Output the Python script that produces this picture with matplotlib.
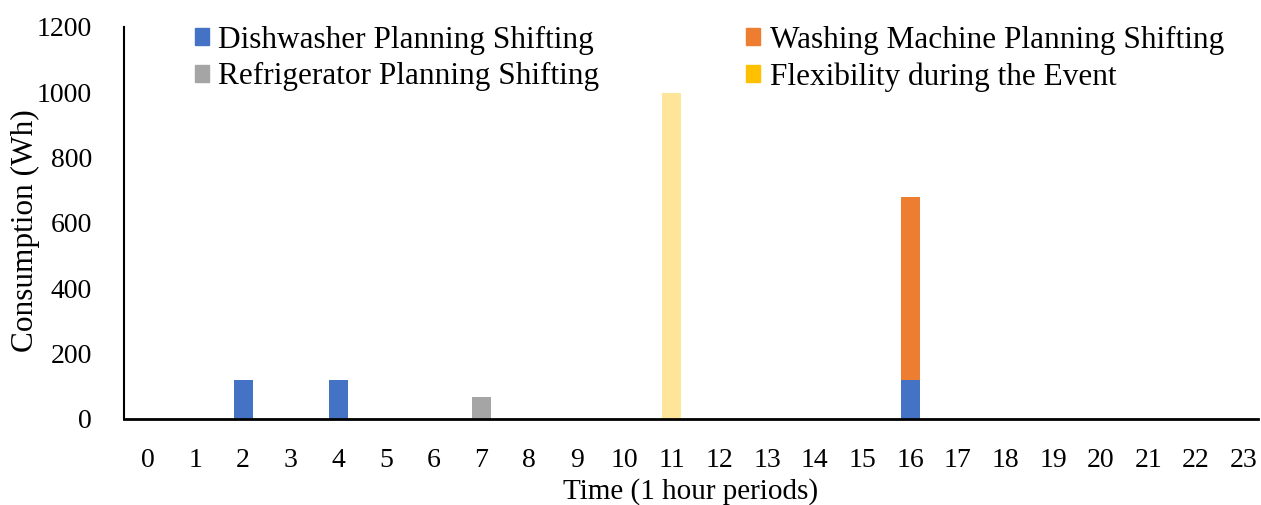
import matplotlib.pyplot as plt
import numpy as np

plt.rcParams['font.family'] = ['Liberation Serif', 'DejaVu Serif']

# hourly periods
hours = list(range(24))
dishwasher = [0, 0, 120, 0, 120, 0, 0, 0, 0, 0, 0, 0, 0, 0, 0, 0, 120, 0, 0, 0, 0, 0, 0, 0]
washing = [0] * 16 + [560] + [0] * 7
fridge = [0] * 7 + [68] + [0] * 16
flexibility = [0] * 11 + [997] + [0] * 12

labels = ['Dishwasher Planning Shifting', 'Washing Machine Planning Shifting',
          'Refrigerator Planning Shifting', 'Flexibility during the Event']
colors = ['#4472C4', '#ED7D31', '#A5A5A5', '#FFC000']

fig = plt.figure(figsize=(12.61, 5.05), dpi=100)
ax = fig.add_axes([124 / 1261, 1 - 419 / 505, 1134 / 1261, 392 / 505])

x = np.array(hours)
w = 0.4
d = np.array(dishwasher)
wm = np.array(washing)
fr = np.array(fridge)
fl = np.array(flexibility)

ax.bar(x, d, w, color=colors[0], zorder=2)
ax.bar(x, wm, w, bottom=d, color=colors[1], zorder=2)
ax.bar(x, fr, w, bottom=d + wm, color=colors[2], zorder=2)
ax.bar(x, fl, w, bottom=d + wm + fr, color=colors[3], alpha=0.4, zorder=2)

ax.set_xlim(-0.5, 23.3)
ax.set_ylim(0, 1200)
ax.set_yticks(range(0, 1201, 200))
ax.set_xticks(x)
ax.set_xticklabels([str(h) for h in hours])
ax.tick_params(axis='both', length=0, labelsize=20)
ax.tick_params(axis='x', pad=21)
ax.tick_params(axis='y', pad=23)

for s in ['top', 'right']:
    ax.spines[s].set_visible(False)
ax.spines['left'].set_linewidth(1.5)
ax.spines['bottom'].set_linewidth(2)

fig.text(25 / 1261, 1 - 231 / 505, 'Consumption (Wh)', rotation=90,
         ha='center', va='center', fontsize=22.5)
fig.text(691 / 1261, 1 - 492 / 505, 'Time (1 hour periods)',
         ha='center', va='center', fontsize=21)

# legend fills column-wise, so order handles to get rows as in the original
order = [0, 2, 1, 3]
handles = [plt.Rectangle((0, 0), 1, 1, color=colors[i]) for i in order]
fig.legend(handles, [labels[i] for i in order], ncol=2, loc='upper left',
           bbox_to_anchor=(179 / 1261, 1 - 10 / 505), frameon=False,
           fontsize=22.5, handlelength=0.45, handleheight=0.45,
           handletextpad=0.3, columnspacing=4.7, labelspacing=0.25,
           borderpad=0)

fig.savefig('out.png', dpi=100)
